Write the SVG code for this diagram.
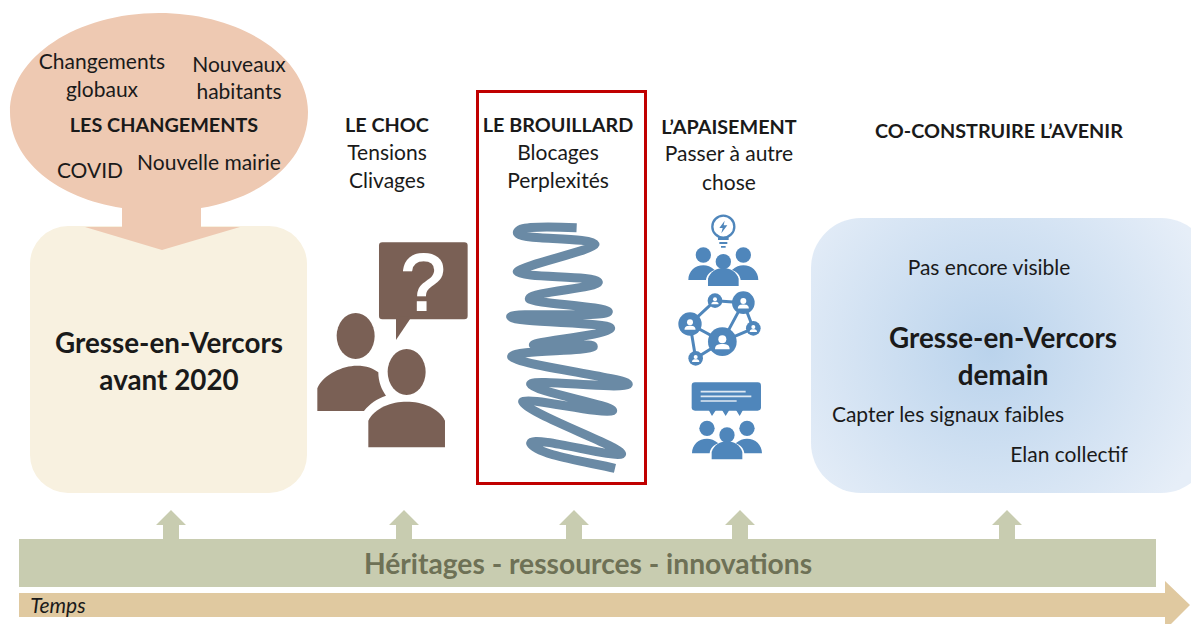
<svg xmlns="http://www.w3.org/2000/svg" width="1191" height="624" viewBox="0 0 1191 624">
<style>
text{font-family:Lato,"Noto Sans",sans-serif;fill:#1a1a1a;text-anchor:middle}
.t{font-size:21px}
.b{font-size:19.800px;font-weight:700}
.h{font-size:27.800px;font-weight:700}
.u{fill:#c8ccb0}
.br{fill:#7a6055}
.bl{fill:#4f86bb}
</style>
<defs>
<radialGradient id="g" gradientUnits="userSpaceOnUse" cx="990" cy="350" r="230"><stop offset="0" stop-color="#bad3ec"/><stop offset="1" stop-color="#e6eef8"/></radialGradient>
<g id="trio"><circle cx="-60" cy="-93" r="23"/><circle cx="60" cy="-93" r="23"/><path d="M-105-18C-105-44-85-62-60-62C-48-62-38-58-26-48C-42-42-50-32-52-18Z M105-18C105-44 85-62 60-62C48-62 38-58 26-48C42-42 50-32 52-18Z"/><circle cx="0" cy="-73" r="23"/><path d="M-46 0V-22C-40-42-20-54 0-54C20-54 40-42 46-22V0Z"/></g>
<g id="nd"><circle cy="-6" r="6" fill="#fff"/><path d="M-11 9C-11 2-6 1 0 1C6 1 11 2 11 9Z" fill="#fff"/></g>
</defs>
<g id="arrows"><path class="u" d="M171 510l15 15h-7v14h-16v-14h-7ZM404 510l15 15h-7v14h-16v-14h-7ZM574 510l15 15h-7v14h-16v-14h-7ZM740 510l15 15h-7v14h-16v-14h-7ZM1007 510l15 15h-7v14h-16v-14h-7Z"/></g>
<g id="avant"><rect x="30" y="226" width="277" height="267" rx="38" fill="#f8f1e0"/><text class="h" x="169" y="353">Gresse-en-Vercors</text><text class="h" x="169" y="390">avant 2020</text></g>
<g id="changements"><path fill="#eec9b2" d="M159 13C241 13 308 57 308 112C308 161 262 198 201 208V227H240L162 250L85 227H122V208C58 198 10 161 10 112C10 57 77 13 159 13Z"/>
<text class="t" x="102" y="69">Changements</text><text class="t" x="102" y="97">globaux</text><text class="t" x="239" y="72">Nouveaux</text><text class="t" x="239" y="99">habitants</text><text class="b" x="164" y="132">LES CHANGEMENTS</text><text class="t" x="90" y="178">COVID</text><text class="t" x="209" y="170">Nouvelle mairie</text></g>
<g id="choc"><text class="b" x="387" y="132">LE CHOC</text><text class="t" x="387" y="160">Tensions</text><text class="t" x="387" y="188">Clivages</text>
<g transform="translate(300 200) scale(.3333)" class="br"><rect x="237" y="127" width="266" height="231" rx="10"/><path d="M288 350V420L335 350Z"/><ellipse cx="167" cy="408" rx="57" ry="69"/><path d="M52 633V565C70 522 130 497 170 497C200 497 220 505 235 517C235 545 245 570 258 587C230 597 210 610 192 633Z"/><ellipse cx="320" cy="516" rx="57" ry="69"/><path d="M205 742V662C225 622 275 605 320 605C365 605 415 622 435 662V742Z"/></g>
<text x="423" y="310" style="font-family:'Liberation Sans',sans-serif;font-size:80px;fill:#fff;stroke:#fff;stroke-width:2">?</text></g>
<g id="brouillard"><rect x="477.500" y="91.500" width="168" height="392" fill="#fff" stroke="#c00000" stroke-width="3"/><text class="b" x="558" y="132">LE BROUILLARD</text><text class="t" x="558" y="160">Blocages</text><text class="t" x="558" y="188">Perplexités</text>
<path transform="translate(300 200) scale(.3333)" fill="none" stroke="#6a8aa5" stroke-width="27" stroke-linecap="butt" stroke-linejoin="round" d="M830 83C760 80 690 78 665 87C635 100 660 110 720 113C800 118 880 120 885 133C880 150 670 195 652 215C665 235 890 225 895 247C890 265 690 275 688 297C700 310 920 320 925 335C920 355 640 335 632 350C640 370 930 365 932 385C925 405 700 425 700 435C720 445 880 425 880 440C860 455 640 450 635 470C650 495 985 535 985 553C960 570 700 535 692 552C700 575 935 615 938 632C910 645 680 590 668 605C680 640 965 740 965 762C940 775 700 705 692 730C710 765 860 785 945 805"/></g>
<g id="apaisement"><text class="b" x="729" y="134">L’APAISEMENT</text><text class="t" x="729" y="161">Passer à autre</text><text class="t" x="729" y="190">chose</text>
<g transform="translate(660 200) scale(.3333)" class="bl">
<circle cx="190" cy="80" r="33" fill="none" stroke="#4f86bb" stroke-width="7"/><path d="M194 62L178 84H188L184 100L202 76H191Z"/><path d="M174 112h32v8h-32ZM178 126h24v6h-24ZM183 138h14v5h-14Z"/>
<use href="#trio" transform="translate(190 258)"/>
<g fill="none" stroke="#4f86bb" stroke-width="9"><path d="M165 302L250 308L280 385L187 425L90 372L165 302M250 308L187 425M90 372L107 475L187 425"/></g>
<circle cx="165" cy="302" r="22"/><circle cx="250" cy="308" r="34"/><circle cx="90" cy="372" r="35"/><circle cx="280" cy="385" r="22"/><circle cx="187" cy="425" r="43"/><circle cx="107" cy="475" r="22"/>
<use href="#nd" transform="translate(250 312) scale(1.500)"/><use href="#nd" transform="translate(90 376) scale(1.500)"/><use href="#nd" transform="translate(187 430) scale(2)"/><use href="#nd" transform="translate(165 304) scale(1)"/><use href="#nd" transform="translate(280 387) scale(1)"/><use href="#nd" transform="translate(107 477) scale(1)"/>
<rect x="95" y="547" width="208" height="85" rx="10"/><path d="M146 630l10 18l12-18ZM186 630l11 18l11-18ZM228 630l11 18l10-18Z"/>
<path d="M122 575h135M122 589h152M122 603h108" stroke="#dfe9f3" stroke-width="5"/>
<use href="#trio" transform="translate(201 778)"/></g></g>
<g id="demain"><rect x="811" y="218" width="400" height="275" rx="50" fill="url(#g)"/><text class="t" x="989" y="275">Pas encore visible</text><text class="h" x="1003" y="348">Gresse-en-Vercors</text><text class="h" x="1003" y="385">demain</text><text class="t" x="948" y="422">Capter les signaux faibles</text><text class="t" x="1069" y="462">Elan collectif</text><text class="b" x="999" y="138">CO-CONSTRUIRE L’AVENIR</text></g>
<g id="heritages"><rect x="19" y="539" width="1137" height="48" class="u"/><text x="588" y="574" style="font-size:28.200px;font-weight:700;fill:#6e7156">Héritages - ressources - innovations</text></g>
<g id="temps"><path fill="#e0c9a0" d="M19 593H1165V581L1190 605L1165 630V617H19Z"/><text x="58" y="613" style="font-size:21px;font-style:italic">Temps</text></g>
</svg>
